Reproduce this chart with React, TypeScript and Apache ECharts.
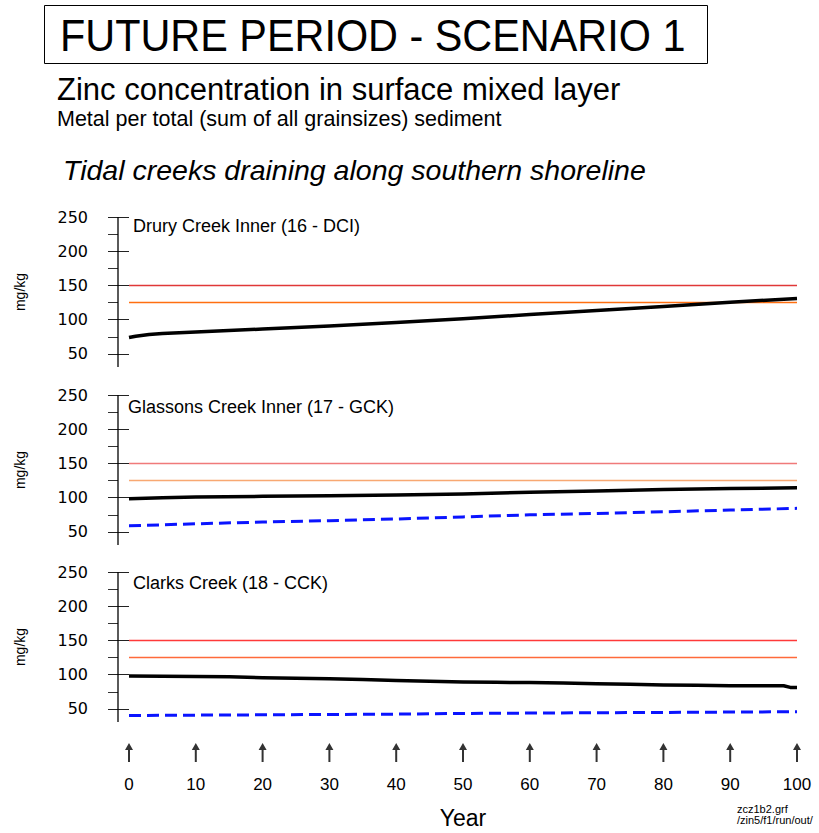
import React, { useEffect, useRef } from "react";
import * as echarts from "echarts";

// ---- data ----
const yearTicks = [0, 10, 20, 30, 40, 50, 60, 70, 80, 90, 100];
const yMajorTicks = [50, 100, 150, 200, 250];
const yMinorTicks = [75, 125, 175, 225];
const guideHigh = 150;
const guideLow = 125;

const druryYears = [0, 1, 3, 5, 10, 20, 30, 40, 50, 60, 70, 80, 90, 100];
const druryZinc = [74, 76, 78.5, 80, 82, 86.5, 91, 95.8, 101.5, 107.5, 113.5, 119.5, 125.5, 131];

const glassonsYears = [0, 5, 10, 20, 30, 40, 50, 60, 70, 80, 90, 100];
const glassonsZinc = [98.5, 100, 101, 102, 103, 104, 105.5, 108, 110, 112, 113.5, 114.5];
const glassonsBaseline = [59, 60.5, 62, 64.5, 66.5, 69, 72, 75, 77, 79.5, 82, 84.5];

const clarksYears = [0, 10, 15, 20, 25, 30, 35, 40, 45, 50, 55, 60, 65, 70, 75, 80, 85, 90, 95, 98, 99, 100];
const clarksZinc = [98, 97.5, 97, 95.5, 95, 94, 93, 91.5, 90.5, 89.5, 89, 88.5, 88, 87, 86, 85, 84.5, 84, 84, 84, 81.5, 81.5];
const clarksBaseYears = [0, 10, 20, 30, 40, 50, 60, 70, 80, 90, 100];
const clarksBaseline = [40.5, 41, 41.5, 42, 42.5, 43.5, 44, 44.5, 45, 45.5, 46];

const panelNames = [
  "Drury Creek Inner (16 - DCI)",
  "Glassons Creek Inner (17 - GCK)",
  "Clarks Creek (18 - CCK)",
];

// ---- layout / style ----
const AXIS_X = 118; // y-axis line position
const X0 = 129; // pixel of year 0
const X100 = 797; // pixel of year 100
const PAD_PX = 14; // grid starts a little left of the axis line
const PX_PER_YEAR = (X100 - X0) / 100;
const X_MIN = -(X0 - AXIS_X + PAD_PX) / PX_PER_YEAR; // grid left edge in years
const X_AXISLINE = -(X0 - AXIS_X) / PX_PER_YEAR; // axis line position in years
const panelTops = [217, 395, 572];
const panelLabelPos = [
  { x: 133, y: 226 },
  { x: 128, y: 406.5 },
  { x: 133, y: 582.5 },
];
const guideColors = [
  { high: "#e03838", low: "#ff6f10" },
  { high: "#f07a7a", low: "#f8a872" },
  { high: "#ff3a3a", low: "#ff6a3a" },
];
const Y_MIN = 31;
const Y_MAX = 250;
const PANEL_H = Math.round((Y_MAX - Y_MIN) * 0.685);
const FONT = "'Liberation Sans', Arial, sans-serif";

const zip = (xs: number[], ys: number[]) => xs.map((x, i) => [x, ys[i]]);

export default function App() {
  const ref = useRef<HTMLDivElement>(null);

  useEffect(() => {
    if (!ref.current) return;
    const chart = echarts.init(ref.current, null, { renderer: "svg" });

    const gridLeft = AXIS_X - PAD_PX;
    const grids: any[] = panelTops.map((top) => ({
      left: gridLeft,
      width: X100 - gridLeft,
      top,
      height: PANEL_H,
    }));
    grids.push({ left: X0, width: X100 - X0, top: 743, height: 19 });

    const xAxes: any[] = panelTops.map((_, i) => ({
      type: "value",
      gridIndex: i,
      min: X_MIN,
      max: 100,
      show: false,
    }));
    xAxes.push({
      type: "value",
      gridIndex: 3,
      min: 0,
      max: 100,
      interval: 10,
      axisLine: { show: false },
      axisTick: { show: false },
      splitLine: { show: false },
      axisLabel: {
        margin: 14,
        fontSize: 17,
        color: "#000",
        fontFamily: FONT,
        customValues: yearTicks,
      },
      name: "Year",
      nameLocation: "middle",
      nameGap: 44,
      nameTextStyle: { fontSize: 23, color: "#000", fontFamily: FONT },
    });

    const yAxes: any[] = [];
    panelTops.forEach((_, i) => {
      yAxes.push({
        type: "value",
        gridIndex: i,
        min: Y_MIN,
        max: Y_MAX,
        position: "left",
        offset: -PAD_PX,
        axisLine: { show: false },
        axisTick: {
          show: true,
          inside: false,
          customValues: yMajorTicks,
          length: 21,
          lineStyle: { color: "#222", width: 1 },
        },
        axisLabel: {
          customValues: yMajorTicks,
          margin: 30,
          fontFamily: "'DejaVu Sans', sans-serif",
          fontSize: 16,
          color: "#000",
        },
        splitLine: { show: false },
        name: "mg/kg",
        nameLocation: "middle",
        nameGap: 91,
        nameRotate: 90,
        nameTextStyle: { fontSize: 14, color: "#000", fontFamily: FONT },
      });
      yAxes.push({
        type: "value",
        gridIndex: i,
        min: Y_MIN,
        max: Y_MAX,
        position: "left",
        offset: -PAD_PX,
        axisLine: { show: false },
        axisTick: {
          show: true,
          customValues: yMinorTicks,
          length: 10,
          lineStyle: { color: "#333", width: 1 },
        },
        axisLabel: { show: false },
        splitLine: { show: false },
      });
    });
    yAxes.push({ type: "value", gridIndex: 3, min: 0, max: 1, show: false });

    const series: any[] = [];
    const zincData = [
      zip(druryYears, druryZinc),
      zip(glassonsYears, glassonsZinc),
      zip(clarksYears, clarksZinc),
    ];
    const baseData = [null, zip(glassonsYears, glassonsBaseline), zip(clarksBaseYears, clarksBaseline)];

    panelTops.forEach((_, i) => {
      const common = {
        type: "line",
        xAxisIndex: i,
        yAxisIndex: i * 2,
        symbol: "none",
        silent: true,
      };
      // vertical axis line
      series.push({
        ...common,
        clip: false,
        data: [[X_AXISLINE, Y_MIN], [X_AXISLINE, Y_MAX]],
        lineStyle: { color: "#000", width: 1.3 },
      });
      series.push({
        ...common,
        data: [[0, guideHigh], [100, guideHigh]],
        lineStyle: { color: guideColors[i].high, width: 1.5 },
      });
      series.push({
        ...common,
        data: [[0, guideLow], [100, guideLow]],
        lineStyle: { color: guideColors[i].low, width: 1.5 },
      });
      if (baseData[i]) {
        series.push({
          ...common,
          data: baseData[i],
          lineStyle: { color: "#0a14ff", width: 3, type: [12, 6] },
        });
      }
      series.push({
        ...common,
        data: zincData[i],
        lineStyle: { color: "#000", width: 3.5, join: "round" },
      });
    });

    series.push({
      type: "scatter",
      xAxisIndex: 3,
      yAxisIndex: 6,
      data: yearTicks.map((y) => [y, 0.5]),
      symbol: "path://M4 0 L8 7 L5 7 L5 19 L3 19 L3 7 L0 7 Z",
      symbolSize: [8, 19],
      itemStyle: { color: "#000" },
      silent: true,
    });

    const graphics: any[] = [
      {
        type: "rect",
        shape: { x: 44.5, y: 5.5, width: 663, height: 58 },
        style: { fill: "none", stroke: "#000", lineWidth: 1 },
      },
      {
        type: "text",
        x: 60,
        y: 35,
        scaleX: 0.92,
        style: {
          text: "FUTURE PERIOD - SCENARIO 1",
          fontSize: 45,
          fontFamily: FONT,
          fill: "#000",
          align: "left",
          verticalAlign: "middle",
        },
      },
      {
        type: "text",
        x: 57,
        y: 89,
        style: {
          text: "Zinc concentration in surface mixed layer",
          fontSize: 31,
          fontFamily: FONT,
          fill: "#000",
          align: "left",
          verticalAlign: "middle",
        },
      },
      {
        type: "text",
        x: 57,
        y: 119,
        style: {
          text: "Metal per total (sum of all grainsizes) sediment",
          fontSize: 21.5,
          fontFamily: FONT,
          fill: "#000",
          align: "left",
          verticalAlign: "middle",
        },
      },
      {
        type: "text",
        x: 63,
        y: 170,
        style: {
          text: "Tidal creeks draining along southern shoreline",
          fontSize: 28.5,
          fontStyle: "italic",
          fontFamily: FONT,
          fill: "#000",
          align: "left",
          verticalAlign: "middle",
        },
      },
      {
        type: "text",
        x: 737,
        y: 809,
        style: {
          text: "zcz1b2.grf",
          fontSize: 11,
          fontFamily: FONT,
          fill: "#000",
          align: "left",
          verticalAlign: "middle",
        },
      },
      {
        type: "text",
        x: 737,
        y: 820,
        style: {
          text: "/zin5/f1/run/out/",
          fontSize: 11,
          fontFamily: FONT,
          fill: "#000",
          align: "left",
          verticalAlign: "middle",
        },
      },
    ];
    panelNames.forEach((name, i) => {
      graphics.push({
        type: "text",
        x: panelLabelPos[i].x,
        y: panelLabelPos[i].y,
        style: {
          text: name,
          fontSize: 18,
          fontFamily: FONT,
          fill: "#000",
          align: "left",
          verticalAlign: "middle",
        },
      });
    });

    chart.setOption({
      animation: false,
      backgroundColor: "#fff",
      textStyle: { fontFamily: FONT },
      grid: grids,
      xAxis: xAxes,
      yAxis: yAxes,
      series,
      graphic: graphics,
    });

    return () => chart.dispose();
  }, []);

  return (
    <div
      ref={ref}
      style={{ position: "fixed", left: 0, top: 0, width: 819, height: 833, background: "#fff" }}
    />
  );
}
